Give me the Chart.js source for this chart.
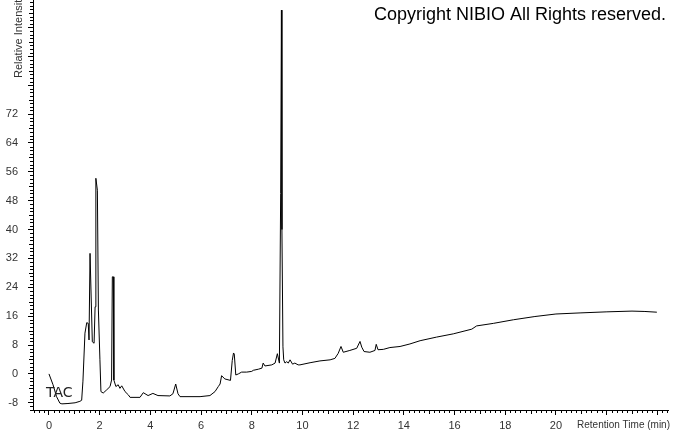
<!DOCTYPE html>
<html>
<head>
<meta charset="utf-8">
<title>TAC Chromatogram</title>
<script src="https://cdn.jsdelivr.net/npm/chart.js"></script>
<style>
  html, body { margin: 0; padding: 0; background: #fff; }
  #wrap { width: 673px; height: 433px; position: relative; }
</style>
</head>
<body>
<div id="wrap"><canvas id="tac"></canvas></div>
<script>
// retention time (min) and relative intensity
const retentionTime = [
  0.00, 0.16, 0.30, 0.43, 0.51, 0.75, 1.03, 1.22, 1.29, 1.34,
  1.42, 1.49, 1.55, 1.58, 1.62, 1.71, 1.78, 1.82, 1.85, 1.91,
  1.95, 2.01, 2.05, 2.14, 2.28, 2.41, 2.47, 2.50, 2.54, 2.56,
  2.64, 2.73, 2.80, 2.87, 3.00, 3.13, 3.20, 3.59, 3.72, 3.91,
  4.10, 4.30, 4.77, 4.89, 5.00, 5.09, 5.17, 5.96, 6.35, 6.55,
  6.68, 6.75, 6.81, 6.94, 7.16, 7.23, 7.28, 7.31, 7.37, 7.47,
  7.60, 7.80, 8.00, 8.06, 8.26, 8.40, 8.45, 8.52, 8.79, 8.92,
  9.01, 9.09, 9.14, 9.17, 9.19, 9.23, 9.26, 9.31, 9.38, 9.44,
  9.51, 9.61, 9.70, 9.83, 9.90, 10.30, 10.69, 11.09, 11.28, 11.41,
  11.52, 11.61, 11.87, 12.14, 12.27, 12.34, 12.43, 12.66, 12.86, 12.91,
  12.98, 13.19, 13.45, 13.85, 14.24, 14.64, 15.29, 15.95, 16.68, 16.87,
  17.53, 18.32, 19.17, 20.00, 20.95, 22.01, 23.00, 23.51, 23.98
];
const intensity = [
  0.0, -3.0, -6.3, -8.1, -8.3, -8.2, -8.0, -7.6, -7.3, -2.0,
  11.3, 14.2, 14.0, 9.4, 33.4, 8.9, 8.5, 18.6, 54.2, 50.9,
  17.7, 3.9, -4.9, -5.3, -4.4, -3.5, -1.7, 26.9, 26.9, -1.7,
  -3.5, -3.0, -4.0, -3.3, -4.9, -5.8, -6.5, -6.5, -5.2, -6.0,
  -5.4, -6.0, -6.1, -5.5, -2.8, -5.5, -6.3, -6.3, -6.0, -4.9,
  -3.5, -2.8, -0.5, -1.4, -1.8, 3.7, 5.8, 5.5, -0.3, 0.0,
  0.5, 0.5, 0.7, 1.0, 1.3, 1.6, 3.0, 2.2, 2.5, 3.0,
  5.6, 3.0, 50.0, 100.8, 40.0, 7.5, 3.9, 3.0, 3.4, 3.0,
  3.9, 2.7, 3.0, 2.5, 2.5, 3.1, 3.6, 3.9, 4.3, 5.7,
  7.6, 6.0, 6.5, 7.1, 9.0, 7.4, 6.2, 6.0, 6.5, 8.2,
  6.7, 6.8, 7.3, 7.6, 8.3, 9.2, 10.2, 11.1, 12.4, 13.3,
  14.0, 15.0, 15.9, 16.6, 16.9, 17.2, 17.4, 17.3, 17.1
];

const xMajorTicks = [0, 2, 4, 6, 8, 10, 12, 14, 16, 18, 20, 22, 24];
const yMajorTicks = [-8, 0, 8, 16, 24, 32, 40, 48, 56, 64, 72, 80, 88, 96];
const xLastLabel = 20;
const yLastLabel = 72;

const points = retentionTime.map((t, i) => ({ x: t, y: intensity[i] }));

// small ticks between the labelled ones
const minorTicks = {
  id: 'minorTicks',
  afterDraw(chart) {
    const { ctx, scales: { x, y } } = chart;
    ctx.save();
    ctx.strokeStyle = '#000';
    ctx.lineWidth = 1;
    ctx.beginPath();
    for (let i = -3; i <= 122; i++) {
      if (i % 10 === 0) continue;
      const px = Math.round(x.getPixelForValue(i / 5)) + 0.5;
      const len = i % 5 === 0 ? 4 : 3;
      ctx.moveTo(px, y.bottom);
      ctx.lineTo(px, y.bottom + len);
    }
    for (let v = -10; v <= 103; v++) {
      if (v % 8 === 0) continue;
      const py = Math.round(y.getPixelForValue(v)) + 0.5;
      const len = v % 4 === 0 ? 4 : 3;
      ctx.moveTo(x.left, py);
      ctx.lineTo(x.left - len, py);
    }
    ctx.stroke();
    ctx.restore();
  }
};

const labels = {
  id: 'labels',
  afterDraw(chart) {
    const { ctx } = chart;
    ctx.save();
    ctx.fillStyle = '#000';
    ctx.font = '18px "Liberation Sans", Arial, sans-serif';
    ctx.textAlign = 'right';
    ctx.textBaseline = 'middle';
    ctx.fillText('Copyright NIBIO All Rights reserved.', 666, 15);

    ctx.fillStyle = '#222';
    ctx.font = '14px "DejaVu Sans", sans-serif';
    ctx.textAlign = 'left';
    ctx.fillText('TAC', 46, 393);

    ctx.fillStyle = '#333';
    ctx.font = '10px "Liberation Sans", Arial, sans-serif';
    ctx.textAlign = 'right';
    ctx.fillText('Retention Time (min)', 670, 425);

    ctx.textAlign = 'left';
    ctx.font = '11px "Liberation Sans", Arial, sans-serif';
    ctx.translate(19, 78);
    ctx.rotate(-Math.PI / 2);
    ctx.fillText('Relative Intensity', 0, 0);
    ctx.restore();
  }
};

new Chart(document.getElementById('tac'), {
  type: 'line',
  data: {
    datasets: [{
      label: 'TAC',
      data: points,
      borderColor: '#000',
      borderWidth: 1,
      pointRadius: 0,
      tension: 0,
      fill: false
    }]
  },
  options: {
    responsive: true,
    maintainAspectRatio: false,
    animation: false,
    layout: { padding: { top: 0, right: 5, left: 0, bottom: 0 } },
    plugins: {
      legend: { display: false },
      tooltip: { enabled: false }
    },
    scales: {
      x: {
        type: 'linear',
        min: -0.63,
        max: 24.42,
        afterBuildTicks: scale => { scale.ticks = xMajorTicks.map(v => ({ value: v })); },
        afterFit: scale => { scale.height = 23; },
        grid: { drawOnChartArea: false, tickLength: 5, color: '#000' },
        border: { color: '#000' },
        ticks: {
          autoSkip: false,
          maxRotation: 0,
          padding: 4,
          color: '#333',
          font: { family: '"Liberation Sans", Arial, sans-serif', size: 11 },
          callback: v => (v <= xLastLabel ? String(v) : '')
        }
      },
      y: {
        min: -10,
        max: 103.6,
        afterBuildTicks: scale => { scale.ticks = yMajorTicks.map(v => ({ value: v })); },
        afterFit: scale => { scale.width = 33; scale.paddingTop = 0; scale.paddingBottom = 0; },
        grid: { drawOnChartArea: false, tickLength: 5, color: '#000' },
        border: { color: '#000' },
        ticks: {
          autoSkip: false,
          padding: 10,
          color: '#333',
          font: { family: '"Liberation Sans", Arial, sans-serif', size: 11 },
          callback: v => (v <= yLastLabel ? String(v) : '')
        }
      }
    }
  },
  plugins: [minorTicks, labels]
});
</script>
</body>
</html>
